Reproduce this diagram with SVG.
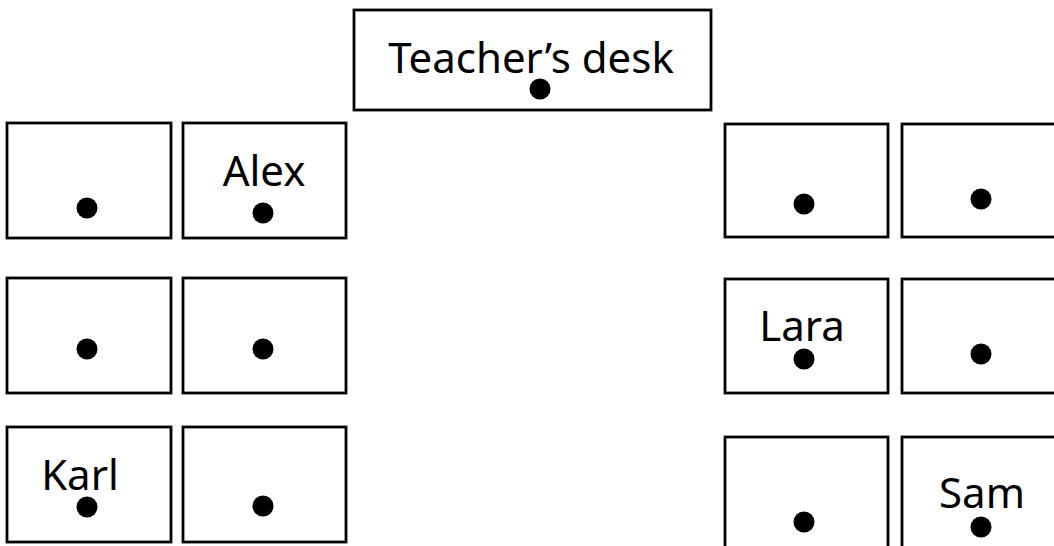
<svg xmlns="http://www.w3.org/2000/svg" width="1054" height="546" viewBox="0 0 1054 546">
<style>
rect{fill:#fff;stroke:#000;stroke-width:2.8}
circle{fill:#000}
text{font-family:"Noto Sans","Open Sans",sans-serif;font-size:42px;fill:#000}
</style>
<rect x="0" y="0" width="1054" height="546" style="stroke:none"/>
<g id="teacher-desk"><rect x="354" y="10" width="357" height="100"/><text x="531" y="73" text-anchor="middle">Teacher’s desk</text><circle cx="540" cy="89" r="10.5"/></g>
<g id="desk-l1a"><rect x="7" y="123" width="164" height="115"/><circle cx="87" cy="208" r="10.5"/></g>
<g id="desk-l1b"><rect x="183" y="123" width="163" height="115"/><text x="264" y="186" text-anchor="middle">Alex</text><circle cx="263" cy="213" r="10.5"/></g>
<g id="desk-l2a"><rect x="7" y="278" width="164" height="115"/><circle cx="87" cy="349" r="10.5"/></g>
<g id="desk-l2b"><rect x="183" y="278" width="163" height="115"/><circle cx="263" cy="349" r="10.5"/></g>
<g id="desk-l3a"><rect x="7" y="427" width="164" height="115"/><text x="80" y="490" text-anchor="middle">Karl</text><circle cx="87" cy="507" r="10.5"/></g>
<g id="desk-l3b"><rect x="183" y="427" width="163" height="115"/><circle cx="263" cy="506" r="10.5"/></g>
<g id="desk-r1a"><rect x="725" y="124" width="163" height="113"/><circle cx="804" cy="204" r="10.5"/></g>
<g id="desk-r1b"><rect x="902" y="124" width="163" height="113"/><circle cx="981" cy="199" r="10.5"/></g>
<g id="desk-r2a"><rect x="725" y="279" width="163" height="114"/><text x="802" y="341" text-anchor="middle">Lara</text><circle cx="804" cy="359" r="10.5"/></g>
<g id="desk-r2b"><rect x="902" y="279" width="163" height="114"/><circle cx="981" cy="354" r="10.5"/></g>
<g id="desk-r3a"><rect x="725" y="437" width="163" height="115"/><circle cx="804" cy="522" r="10.5"/></g>
<g id="desk-r3b"><rect x="902" y="437" width="163" height="115"/><text x="982" y="508" text-anchor="middle">Sam</text><circle cx="981" cy="527" r="10.5"/></g>
<g id="connectors"/>
</svg>
